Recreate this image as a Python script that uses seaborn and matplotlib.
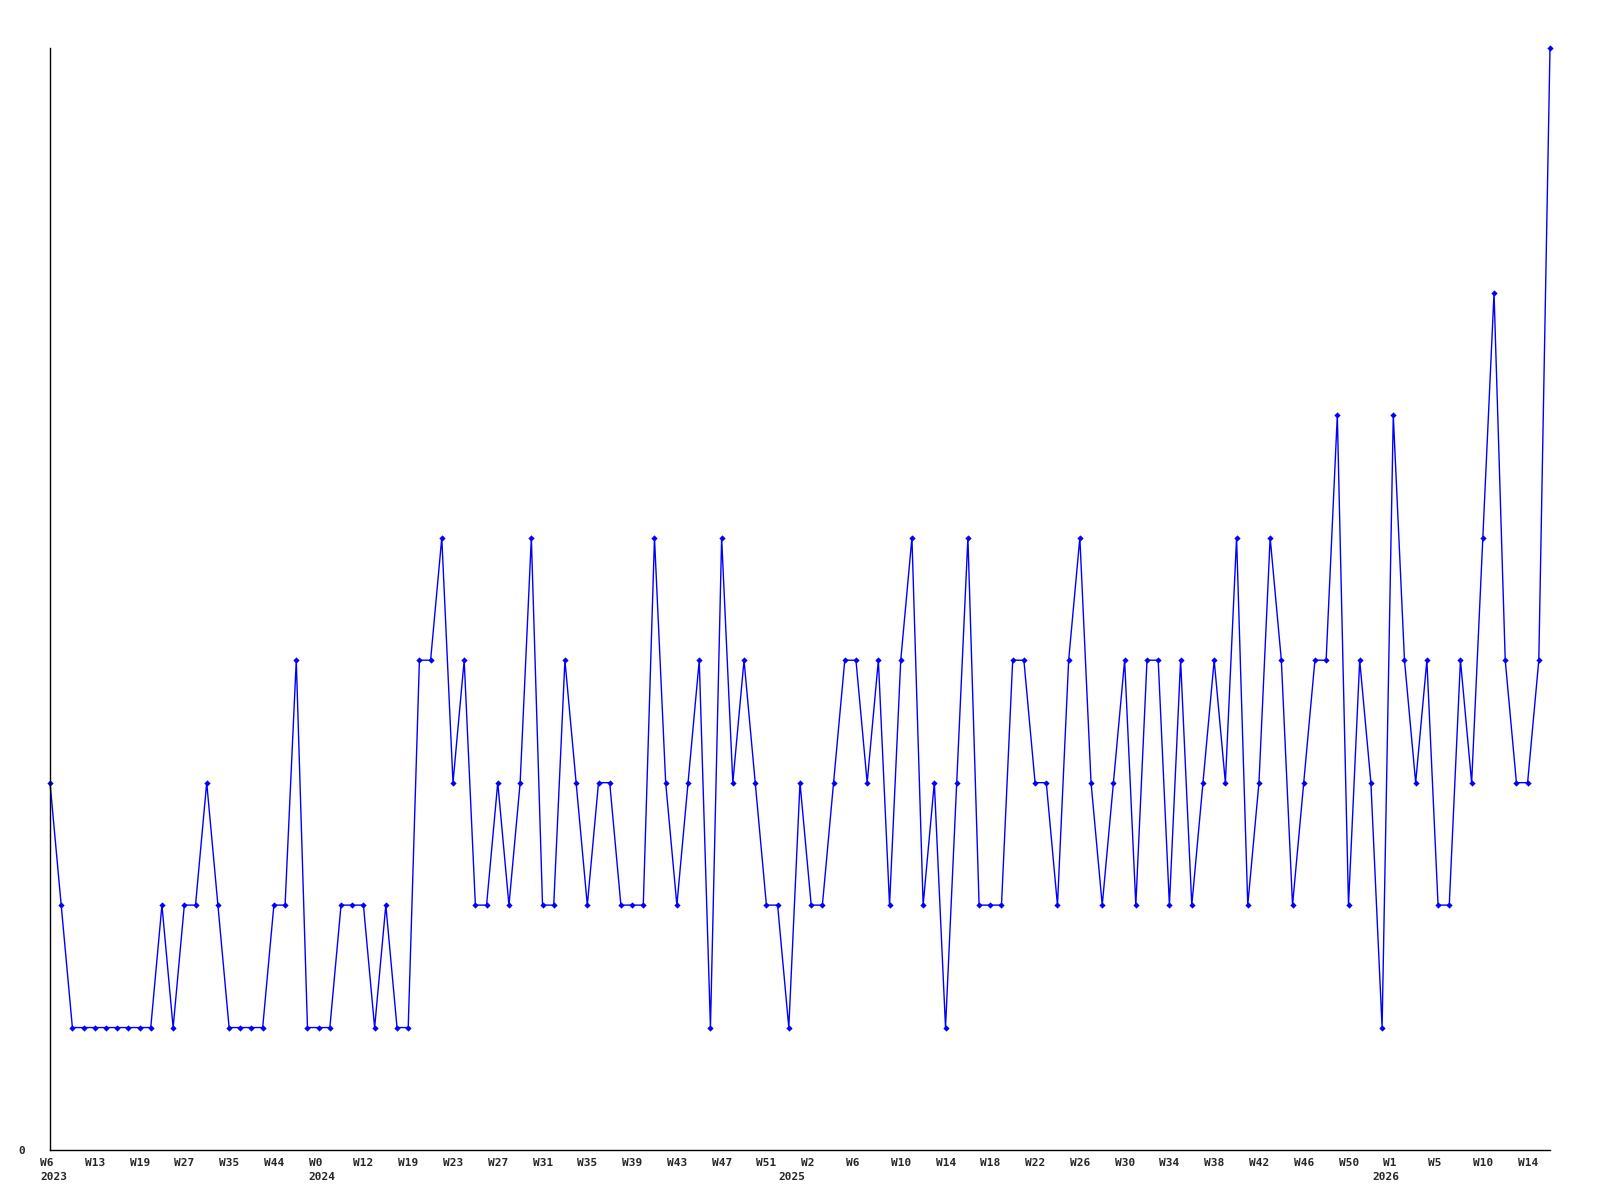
import matplotlib
matplotlib.use("Agg")
import matplotlib.pyplot as plt
import matplotlib.transforms as mtransforms
import seaborn as sns
import pandas as pd

# weekly counts, one value per plotted point
counts = [3, 2, 1, 1, 1, 1, 1, 1, 1, 1, 2, 1, 2, 2, 3, 2, 1, 1, 1, 1,
          2, 2, 4, 1, 1, 1, 2, 2, 2, 1, 2, 1, 1, 4, 4, 5, 3, 4, 2, 2,
          3, 2, 3, 5, 2, 2, 4, 3, 2, 3, 3, 2, 2, 2, 5, 3, 2, 3, 4, 1,
          5, 3, 4, 3, 2, 2, 1, 3, 2, 2, 3, 4, 4, 3, 4, 2, 4, 5, 2, 3,
          1, 3, 5, 2, 2, 2, 4, 4, 3, 3, 2, 4, 5, 3, 2, 3, 4, 2, 4, 4,
          2, 4, 2, 3, 4, 3, 5, 2, 3, 5, 4, 2, 3, 4, 4, 6, 2, 4, 3, 1,
          6, 4, 3, 4, 2, 2, 4, 3, 5, 7, 4, 3, 3, 4, 9]

# week labels shown on every 4th point
tick_weeks = ["W6", "W13", "W19", "W27", "W35", "W44", "W0", "W12", "W19",
              "W23", "W27", "W31", "W35", "W39", "W43", "W47", "W51", "W2",
              "W6", "W10", "W14", "W18", "W22", "W26", "W30", "W34", "W38",
              "W42", "W46", "W50", "W1", "W5", "W10", "W14"]
tick_step = 4

# year labels sit under the first point of each year
years = ["2023", "2024", "2025", "2026"]
year_starts = [0, 24, 66, 119]

df = pd.DataFrame({"idx": range(len(counts)), "count": counts})

sns.set_style("white")
plt.rcParams["font.family"] = ["DejaVu Sans Mono", "DejaVu Sans"]

fig = plt.figure(figsize=(16, 12), dpi=100)
ax = fig.add_axes([50 / 1600, 50 / 1200, 1500 / 1600, 1102 / 1200])

sns.lineplot(data=df, x="idx", y="count", ax=ax, color="#0000ff",
             linewidth=1.0, marker="D", markersize=3.2,
             markeredgewidth=0, clip_on=False)

ax.set_xlim(0, len(counts) - 1)
ax.set_ylim(0, max(counts))

# keep year ticks even where they share a spot with a week tick
ax.xaxis.remove_overlapping_locs = False
ax.set_xticks([i * tick_step for i in range(len(tick_weeks))])
ax.set_xticklabels(tick_weeks, ha="left", fontsize=8, fontweight="bold")
ax.set_xticks(year_starts, minor=True)
ax.set_xticklabels(years, minor=True, ha="left", fontsize=8,
                   fontweight="bold")
ax.set_yticks([0])
ax.set_yticklabels(["0"], fontsize=8, fontweight="bold")
ax.tick_params(axis="x", which="major", length=0, pad=6)
ax.tick_params(axis="x", which="minor", length=0, pad=16)
ax.tick_params(axis="y", length=0, pad=18)

# labels start a little left of their point
offset = mtransforms.ScaledTranslation(-10 / 100, 0, fig.dpi_scale_trans)
for lab in ax.get_xticklabels() + ax.get_xticklabels(minor=True):
    lab.set_transform(lab.get_transform() + offset)

ax.set_xlabel("")
ax.set_ylabel("")
for side in ["top", "right"]:
    ax.spines[side].set_visible(False)
for side in ["left", "bottom"]:
    ax.spines[side].set_color("black")
    ax.spines[side].set_linewidth(1.0)

fig.savefig("out.png", dpi=100)
